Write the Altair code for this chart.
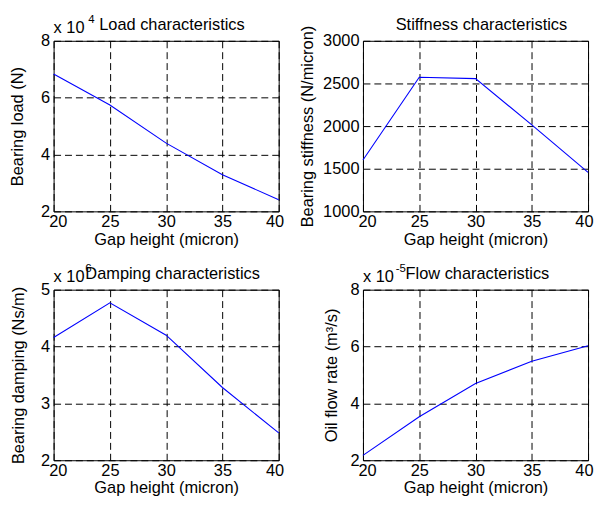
import altair as alt
import pandas as pd

gap = [20, 25, 30, 35, 40]
load_x1e4 = [6.83, 5.74, 4.40, 3.29, 2.41]
stiffness = [1602, 2573, 2557, 2014, 1458]
damping_x1e6 = [4.16, 4.77, 4.20, 3.28, 2.48]
flow_x1e5 = [2.17, 3.53, 4.70, 5.48, 6.03]

x_ticks = [20, 25, 30, 35, 40]
load_ticks = [2, 4, 6, 8]
stiff_ticks = [1000, 1500, 2000, 2500, 3000]
damp_ticks = [2, 3, 4, 5]
flow_ticks = [2, 4, 6, 8]

W, H = 227, 172
FONT = "Liberation Sans"
FS = 16.5


def panel(values, ticks, ytitle, title_x, title, exp_text, exp_x, ytitle_x):
    df = pd.DataFrame({"gap": gap, "v": values})
    line = alt.Chart(df).mark_line(color="#0000ff", strokeWidth=1.1).encode(
        x=alt.X("gap:Q", scale=alt.Scale(domain=[20, 40], nice=False, zero=False),
                axis=alt.Axis(values=x_ticks, title="Gap height (micron)", format="d",
                              labelFlush=True, labelFlushOffset=5,
                              labelPadding=2, titlePadding=1.5)),
        y=alt.Y("v:Q", scale=alt.Scale(domain=[ticks[0], ticks[-1]], nice=False, zero=False),
                axis=alt.Axis(values=ticks, title=ytitle, format="d",
                              labelPadding=4, titleX=ytitle_x, titleBaseline="bottom")),
    )
    layers = [line]
    tdf = pd.DataFrame({"t": [title]})
    layers.append(alt.Chart(tdf).mark_text(align="left", baseline="alphabetic", font=FONT,
                                           fontSize=FS, color="black").encode(
        text="t:N", x=alt.value(title_x), y=alt.value(-11)))
    if exp_text is not None:
        edf = pd.DataFrame({"t": ["x 10"]})
        layers.append(alt.Chart(edf).mark_text(align="left", baseline="alphabetic", font=FONT,
                                               fontSize=FS, color="black").encode(
            text="t:N", x=alt.value(0), y=alt.value(-8)))
        sdf = pd.DataFrame({"t": [exp_text]})
        layers.append(alt.Chart(sdf).mark_text(align="left", baseline="alphabetic", font=FONT,
                                               fontSize=11.5, color="black").encode(
            text="t:N", x=alt.value(exp_x), y=alt.value(-18)))
    return alt.layer(*layers).properties(width=W, height=H)


p1 = panel(load_x1e4, load_ticks, "Bearing load (N)", 46, "Load characteristics", "4", 35, -28)
p2 = panel(stiffness, stiff_ticks, "Bearing stiffness (N/micron)", 33, "Stiffness characteristics", None, 0, -48)
p3 = panel(damping_x1e6, damp_ticks, "Bearing damping (Ns/m)", 32, "Damping characteristics", "6", 32, -27)
p4 = panel(flow_x1e5, flow_ticks, "Oil flow rate (m³/s)", 43, "Flow characteristics", "-5", 33, -24)

chart = alt.concat(p1, p2, p3, p4, columns=2, spacing=alt.RowColnumber(row=79, column=85),
                   bounds="flush").properties(
    padding={"left": 1, "top": 3, "right": 0, "bottom": 0},
    background="white",
).configure_view(stroke="black", strokeWidth=1).configure_axis(
    labelFont=FONT, titleFont=FONT, labelFontSize=FS, titleFontSize=FS,
    titleFontWeight="normal", labelColor="black", titleColor="black",
    grid=True, gridColor="black", gridDash=[7, 4], gridOpacity=1, gridWidth=1,
    domain=False, ticks=False,
)

chart.save("out.html", embed_options={"renderer": "svg", "actions": False})
